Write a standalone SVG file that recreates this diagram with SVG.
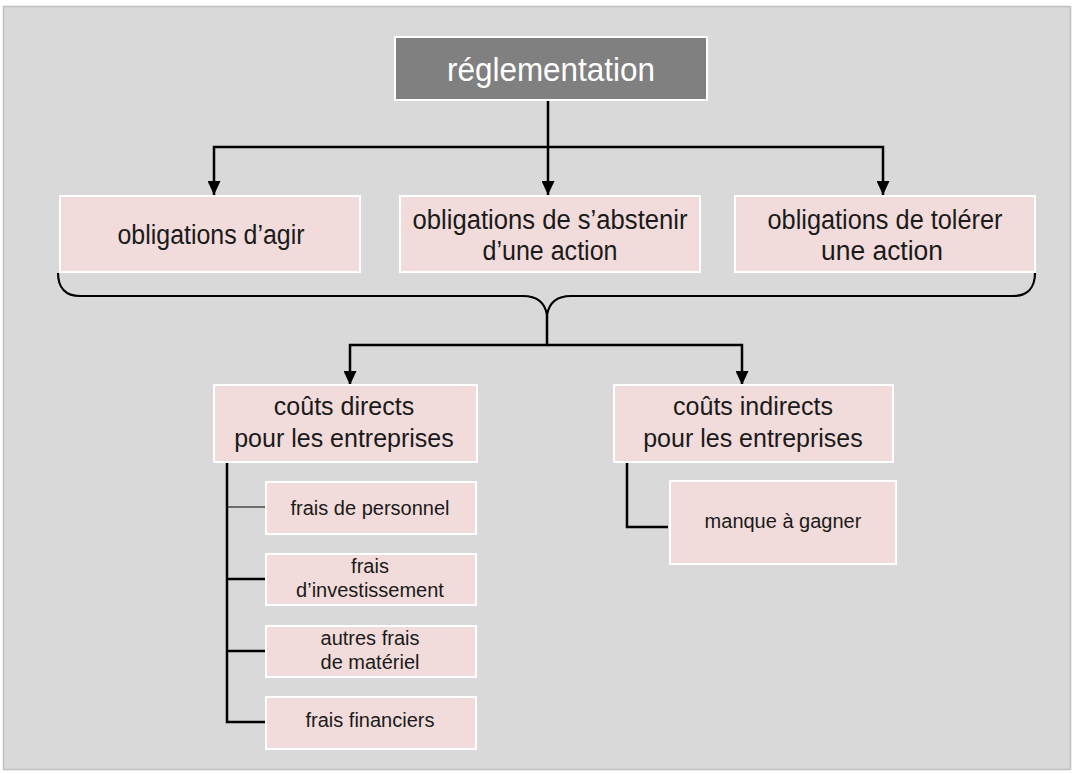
<svg xmlns="http://www.w3.org/2000/svg" width="1075" height="774" viewBox="0 0 1075 774">
  <defs>
    <marker id="arr" viewBox="0 0 14 13" refX="14" refY="6.5" markerWidth="14" markerHeight="13" markerUnits="userSpaceOnUse" orient="auto">
      <path d="M0,0 L14,6.5 L0,13 Z" fill="#000"/>
    </marker>
    <style>
      .box { fill: #f2dcdb; stroke: #ffffff; stroke-width: 2; }
      .top { fill: #808080; stroke: #ffffff; stroke-width: 2; }
      .t { font-family: "Liberation Sans", Arial, sans-serif; fill: #1a1a1a; text-anchor: middle; }
      .l1 { font-size: 27px; }
      .l2 { font-size: 25px; }
      .l3 { font-size: 20px; }
      .c { fill: none; stroke: #000; stroke-width: 2.5; }
      .thin { fill: none; stroke: #000; stroke-width: 1.2; }
    </style>
  </defs>
  <rect x="0" y="0" width="1075" height="774" fill="#ffffff"/>
  <rect x="3.5" y="6.5" width="1067" height="763" fill="#d9d9d9" stroke="#bfbfbf" stroke-width="1.5"/>

  <g id="connectors">
    <path class="c" d="M548,100 V195" marker-end="url(#arr)"/>
    <path class="c" d="M548,147 H214 V195" marker-end="url(#arr)"/>
    <path class="c" d="M548,147 H883 V195" marker-end="url(#arr)"/>
    <path fill="none" stroke="#000" stroke-width="2.2" d="M58,273 C58,288 66,296 80,296 H523 C537,296 545,303 547,315 C549,303 557,296 571,296 H1013 C1027,296 1035,288 1035,273"/>
    <path class="c" d="M547,315 V345 H350 V385" marker-end="url(#arr)"/>
    <path class="c" d="M547,345 H742 V385" marker-end="url(#arr)"/>
    <path class="c" d="M227,462 V722 H266"/>
    <path class="thin" d="M227,507 H266"/>
    <path class="c" d="M227,579 H266"/>
    <path class="c" d="M227,651 H266"/>
    <path class="c" d="M627,462 V527 H668"/>
  </g>

  <g id="n-reglementation">
    <rect class="top" x="395" y="37" width="312" height="63"/>
    <text class="t" x="551" y="81" font-size="33" style="fill:#ffffff" textLength="208" lengthAdjust="spacingAndGlyphs">réglementation</text>
  </g>

  <g id="n-agir">
    <rect class="box" x="60" y="196" width="300" height="76"/>
    <text class="t l1" x="211" y="244" textLength="187" lengthAdjust="spacingAndGlyphs">obligations d’agir</text>
  </g>

  <g id="n-abstenir">
    <rect class="box" x="400" y="196" width="300" height="76"/>
    <text class="t l1" x="550" y="229" textLength="275" lengthAdjust="spacingAndGlyphs">obligations de s’abstenir</text>
    <text class="t l1" x="550" y="260" textLength="135" lengthAdjust="spacingAndGlyphs">d’une action</text>
  </g>

  <g id="n-tolerer">
    <rect class="box" x="735" y="196" width="300" height="76"/>
    <text class="t l1" x="885" y="229" textLength="235" lengthAdjust="spacingAndGlyphs">obligations de tolérer</text>
    <text class="t l1" x="882" y="260" textLength="122" lengthAdjust="spacingAndGlyphs">une action</text>
  </g>

  <g id="n-directs">
    <rect class="box" x="214" y="385" width="263" height="77"/>
    <text class="t l2" x="344" y="415">coûts directs</text>
    <text class="t l2" x="344" y="447">pour les entreprises</text>
  </g>

  <g id="n-indirects">
    <rect class="box" x="614" y="385" width="279" height="77"/>
    <text class="t l2" x="753" y="415">coûts indirects</text>
    <text class="t l2" x="753" y="447">pour les entreprises</text>
  </g>

  <g id="n-personnel">
    <rect class="box" x="266" y="482" width="210" height="52"/>
    <text class="t l3" x="370" y="515">frais de personnel</text>
  </g>

  <g id="n-investissement">
    <rect class="box" x="266" y="554" width="210" height="51"/>
    <text class="t l3" x="370" y="573">frais</text>
    <text class="t l3" x="370" y="597">d’investissement</text>
  </g>

  <g id="n-materiel">
    <rect class="box" x="266" y="626" width="210" height="51"/>
    <text class="t l3" x="370" y="645">autres frais</text>
    <text class="t l3" x="370" y="669">de matériel</text>
  </g>

  <g id="n-financiers">
    <rect class="box" x="266" y="697" width="210" height="52"/>
    <text class="t l3" x="370" y="727">frais financiers</text>
  </g>

  <g id="n-manque">
    <rect class="box" x="670" y="481" width="226" height="83"/>
    <text class="t l3" x="783" y="528">manque à gagner</text>
  </g>
</svg>
